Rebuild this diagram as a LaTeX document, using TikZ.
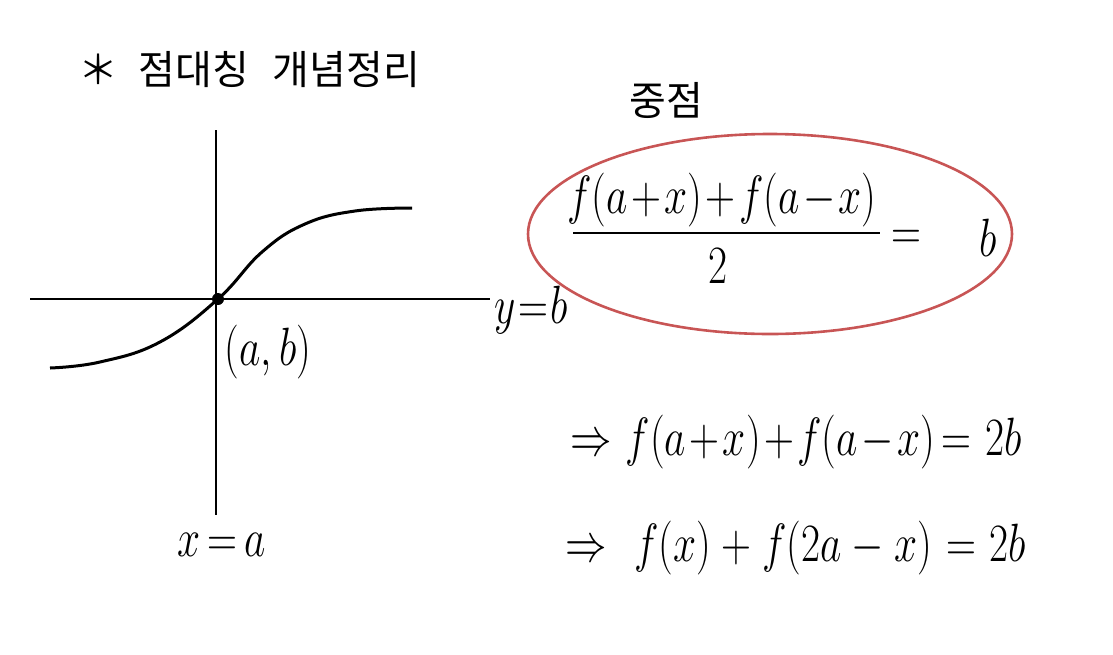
\documentclass[tikz,border=0pt]{standalone}
\usepackage{fontspec}
\usepackage{graphicx}
\newfontfamily\kr{Noto Sans CJK KR}
\usetikzlibrary{shapes.geometric}
\definecolor{circred}{RGB}{200,85,85}
\newcommand{\tall}[1]{\scalebox{1}[1.3]{$\medmuskip=1.5mu\thickmuskip=3mu #1$}}
\newcommand{\tallwide}[1]{\scalebox{1}[1.3]{$\medmuskip=4.5mu\thickmuskip=6mu #1$}}
\newcommand{\tallnarrow}[1]{\scalebox{1}[1.3]{$\medmuskip=1mu\thickmuskip=1mu #1$}}
\tikzset{
  axis/.style={line width=1.4pt,black},
  curveline/.style={line width=1.5pt,black},
  hand/.style={inner sep=0pt,font=\fontsize{20}{24}\selectfont},
  krtext/.style={inner sep=0pt,font=\kr\fontsize{20}{23}\selectfont},
  ring/.style={ellipse,draw=circred,line width=1.3pt,minimum width=242pt,minimum height=100pt,inner sep=0pt}
}
\begin{document}
\begin{tikzpicture}[x=0.5pt,y=-0.5pt]
\useasboundingbox (0,0) rectangle (1113,654);
% title
\node[krtext,anchor=west] (title) at (78,70) {＊\hspace{0.5em}점대칭\hspace{0.6em}개념정리};
% axes
\coordinate (vt) at (216,130);
\coordinate (vb) at (216,515);
\coordinate (hl) at (30,299);
\coordinate (hr) at (490,299);
\draw[axis] (vt) -- (vb);
\draw[axis] (hl) -- (hr);
% curve
\draw[curveline] plot[smooth,tension=0.7] coordinates {(50,368) (100,362) (160,342) (218,299) (262,252) (305,224) (355,211) (412,208)};
\node[circle,fill=black,inner sep=0pt,minimum size=6pt] (O) at (218,299) {};
\node[hand] (ab) at (268,352) {\tall{(a,b)}};
\node[hand,anchor=west] (yb) at (494,310) {\tallnarrow{y=b}};
\node[hand] (xa) at (222,545) {\tall{x=a}};
% midpoint
\node[krtext] (mid) at (666,100) {중점};
\node[ring] (E) at (770,234) {};
\node[hand] (num) at (722,200) {\tall{f(a+x)+f(a-x)}};
\coordinate (barl) at (573,233);
\coordinate (barr) at (880,233);
\draw[line width=1.4pt] (barl) -- (barr);
\node[hand] (den) at (718,266) {\tall{2}};
\node[hand] (eq) at (906,240) {\tall{=}};
\node[hand] (b) at (988,238) {\tall{b}};
% derived lines
\node[hand,anchor=west] (l2) at (570,442) {\tall{\Rightarrow\; f(a+x)+f(a-x)=\;2b}};
\node[hand,anchor=west] (l3) at (565,548) {\tallwide{\Rightarrow\; f(x)+f(2a-x)=2b}};
\end{tikzpicture}
\end{document}
